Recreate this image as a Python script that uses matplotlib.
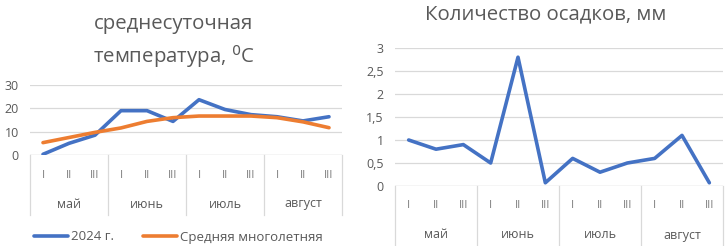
import matplotlib
matplotlib.use("Agg")
import matplotlib.pyplot as plt
import matplotlib.transforms as mtrans

plt.rcParams['font.family'] = ['Open Sans', 'DejaVu Sans']

months = ["май", "июнь", "июль", "август"]
decades = ["I", "II", "III"]
temp_2024 = [0.3, 5.0, 8.5, 19.0, 19.0, 14.4, 23.7, 19.5, 17.3, 16.4, 14.6, 16.4]
temp_norm = [5.3, 7.5, 9.7, 11.6, 14.4, 16.0, 16.7, 16.7, 16.7, 16.0, 14.2, 11.7]
precip = [1.0, 0.8, 0.9, 0.5, 2.8, 0.07, 0.6, 0.3, 0.5, 0.6, 1.1, 0.07]
temp_ticks = [0, 10, 20, 30]
precip_ticks = [0, 0.5, 1, 1.5, 2, 2.5, 3]
precip_ticklabels = ["0", "0,5", "1", "1,5", "2", "2,5", "3"]

W, H = 727, 246
fig = plt.figure(figsize=(W / 100, H / 100), dpi=100)

BLUE = "#4472C4"
ORANGE = "#ED7D31"
GRID = "#D9D9D9"
TXT = "#595959"


def fy(px):
    return 1 - px / H


def make_axes(l, r, t, b):
    return fig.add_axes([l / W, fy(b), (r - l) / W, (b - t) / H])


def style(ax, ylim, ticks, labels, sep_bottom, roman_y, month_y):
    n = len(months) * len(decades)
    ax.set_xlim(-0.5, n - 0.5)
    ax.set_ylim(*ylim)
    ax.set_yticks(ticks)
    ax.set_yticklabels(labels, fontsize=9, color=TXT)
    ax.tick_params(axis='y', length=0, pad=8)
    ax.set_xticks([])
    for s in ax.spines.values():
        s.set_visible(False)
    ax.grid(axis='y', color=GRID, lw=0.9)
    ax.set_axisbelow(True)
    ax.axhline(ylim[0], color=GRID, lw=0.9, zorder=1)
    tr = mtrans.blended_transform_factory(ax.transData, fig.transFigure)
    axb = ax.get_position().y0
    for k in range(len(months) + 1):
        x = -0.5 + 3 * k
        ax.plot([x, x], [axb, fy(sep_bottom)], color=GRID, lw=0.9,
                transform=tr, clip_on=False)
    for i in range(n):
        ax.text(i, fy(roman_y), decades[i % 3], transform=tr, ha='center',
                va='center', fontsize=8, color="#7F7F7F")
    for m, name in enumerate(months):
        ax.text(3 * m + 1, fy(month_y), name, transform=tr, ha='center',
                va='center', fontsize=9, color=TXT)


# Left chart
ax1 = make_axes(30, 342, 85, 155)
x = list(range(len(temp_2024)))
l1, = ax1.plot(x, temp_2024, color=BLUE, lw=2.6, solid_capstyle='round', zorder=3)
l2, = ax1.plot(x, temp_norm, color=ORANGE, lw=2.6, solid_capstyle='round', zorder=3)
style(ax1, (0, 30), temp_ticks, [str(t) for t in temp_ticks], 215, 176, 204)
fig.text(174 / W, fy(24), "среднесуточная", ha='center', va='center',
         fontsize=14.7, color=TXT)
fig.text(174 / W, fy(57), "температура, $^0$C", ha='center', va='center',
         fontsize=14.7, color=TXT)
fig.legend([l1, l2], ["2024 г.", "Средняя многолетняя"], loc='center',
           bbox_to_anchor=(178 / W, fy(237)), ncol=2, frameon=False,
           fontsize=9.5, handlelength=2.6, columnspacing=2.2, handletextpad=0.2,
           labelcolor=TXT)

# Right chart
ax2 = make_axes(395, 723, 48, 186)
ax2.plot(x, precip, color=BLUE, lw=2.6, solid_capstyle='round', zorder=3)
style(ax2, (0, 3), precip_ticks, precip_ticklabels, 246, 205, 235)
fig.text(546 / W, fy(14), "Количество осадков, мм", ha='center', va='center',
         fontsize=14.7, color=TXT)

fig.savefig("out.png", dpi=100)
